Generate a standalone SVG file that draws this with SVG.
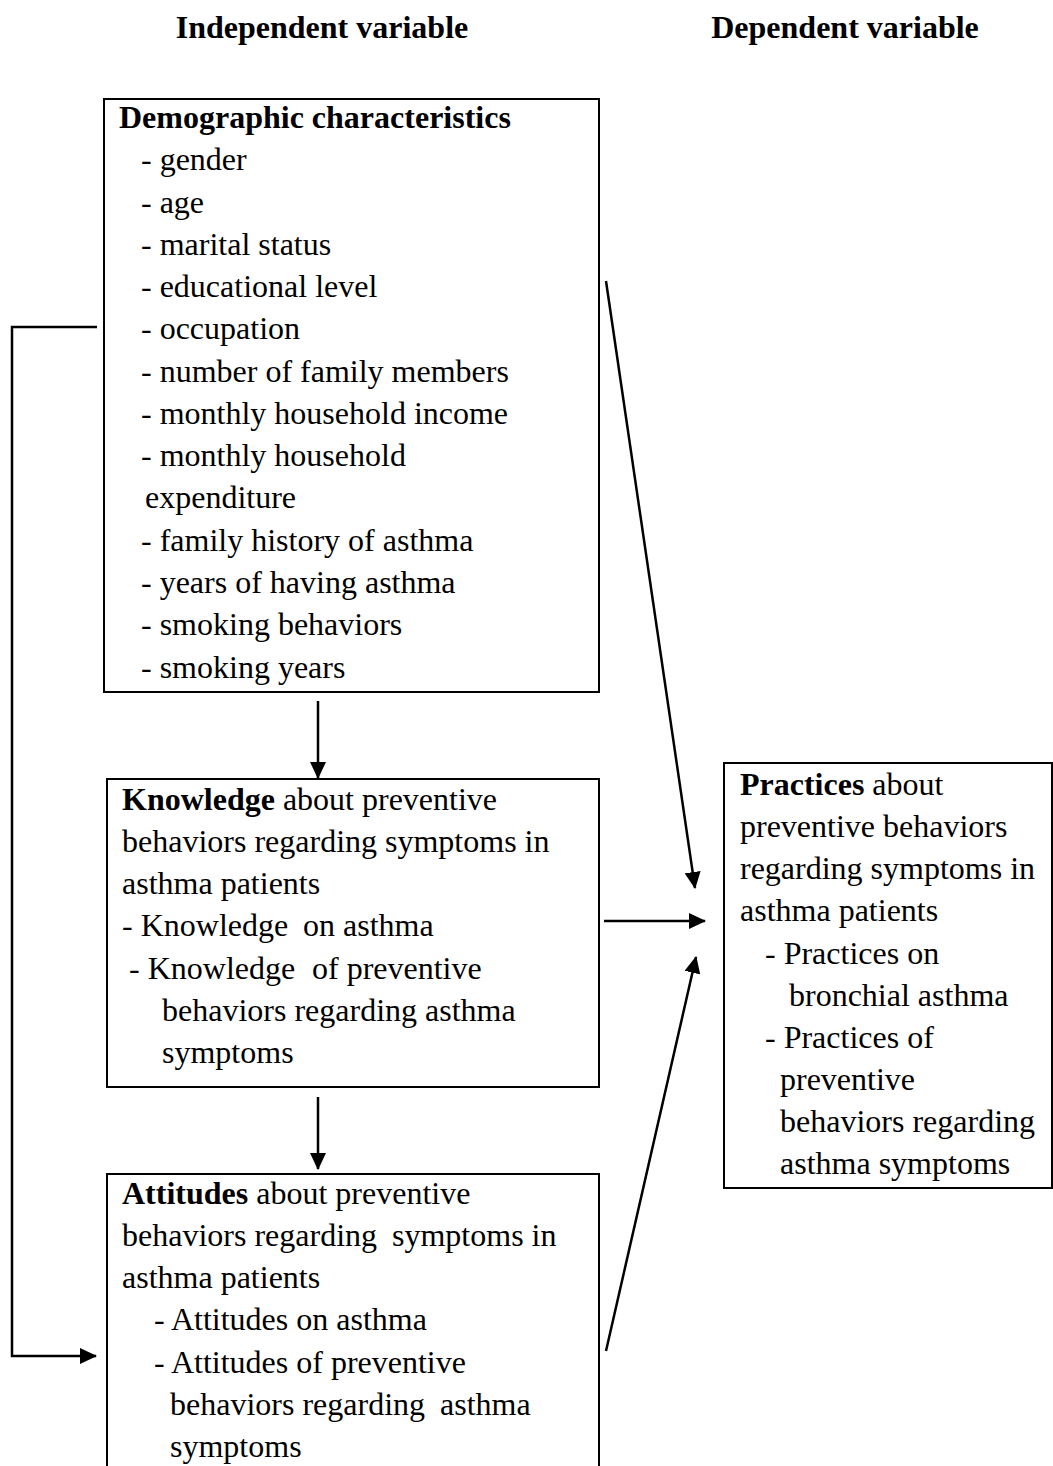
<svg xmlns="http://www.w3.org/2000/svg" width="1053" height="1466" viewBox="0 0 1053 1466">
<style>
text{font-family:"Liberation Serif","Times New Roman",serif;font-size:32px;fill:#000}
.b{font-weight:bold}
.box{fill:#fff;stroke:#000;stroke-width:2}
.ln{fill:none;stroke:#000;stroke-width:2.5}
</style>
<defs>
<marker id="ah" markerWidth="17" markerHeight="16" refX="16" refY="8" orient="auto" markerUnits="userSpaceOnUse">
<path d="M0,0 L17,8 L0,16 Z" fill="#000"/>
</marker>
</defs>
<rect width="1053" height="1466" fill="#fff"/>
<g id="headers">
<text class="b" x="322" y="38" text-anchor="middle">Independent variable</text>
<text class="b" x="845" y="38" text-anchor="middle">Dependent variable</text>
</g>
<g id="demographic">
<rect class="box" x="104" y="99" width="495" height="593"/>
<text class="b" x="119" y="128">Demographic characteristics</text>
<text x="141" y="170">- gender</text>
<text x="141" y="213">- age</text>
<text x="141" y="255">- marital status</text>
<text x="141" y="297">- educational level</text>
<text x="141" y="339">- occupation</text>
<text x="141" y="382">- number of family members</text>
<text x="141" y="424">- monthly household income</text>
<text x="141" y="466">- monthly household</text>
<text x="145" y="508">expenditure</text>
<text x="141" y="551">- family history of asthma</text>
<text x="141" y="593">- years of having asthma</text>
<text x="141" y="635">- smoking behaviors</text>
<text x="141" y="678">- smoking years</text>
</g>
<g id="knowledge">
<rect class="box" x="107" y="779" width="492" height="308"/>
<text x="122" y="810"><tspan class="b">Knowledge</tspan> about preventive</text>
<text x="122" y="852">behaviors regarding symptoms in</text>
<text x="122" y="894">asthma patients</text>
<text x="122" y="936">- Knowledge</text>
<text x="303" y="936">on asthma</text>
<text x="129" y="979">- Knowledge</text>
<text x="312" y="979">of preventive</text>
<text x="162" y="1021">behaviors regarding asthma</text>
<text x="162" y="1063">symptoms</text>
</g>
<g id="attitudes">
<rect class="box" x="107" y="1174" width="492" height="310"/>
<text x="122" y="1204"><tspan class="b">Attitudes</tspan> about preventive</text>
<text x="122" y="1246">behaviors regarding</text>
<text x="392" y="1246">symptoms in</text>
<text x="122" y="1288">asthma patients</text>
<text x="154" y="1330">- Attitudes on asthma</text>
<text x="154" y="1373">- Attitudes of preventive</text>
<text x="170" y="1415">behaviors regarding</text>
<text x="440" y="1415">asthma</text>
<text x="170" y="1457">symptoms</text>
</g>
<g id="practices">
<rect class="box" x="724" y="763" width="328" height="425"/>
<text x="740" y="795"><tspan class="b">Practices</tspan> about</text>
<text x="740" y="837">preventive behaviors</text>
<text x="740" y="879">regarding symptoms in</text>
<text x="740" y="921">asthma patients</text>
<text x="765" y="964">- Practices on</text>
<text x="789" y="1006">bronchial asthma</text>
<text x="765" y="1048">- Practices of</text>
<text x="780" y="1090">preventive</text>
<text x="780" y="1132">behaviors regarding</text>
<text x="780" y="1174">asthma symptoms</text>
</g>
<g id="connectors">
<path class="ln" d="M97,327 H12 V1356 H96" marker-end="url(#ah)"/>
<line class="ln" x1="318" y1="701" x2="318" y2="778" marker-end="url(#ah)"/>
<line class="ln" x1="318" y1="1097" x2="318" y2="1169" marker-end="url(#ah)"/>
<line class="ln" x1="606" y1="281" x2="695" y2="888" marker-end="url(#ah)"/>
<line class="ln" x1="604" y1="921" x2="705" y2="921" marker-end="url(#ah)"/>
<line class="ln" x1="606" y1="1351" x2="696" y2="957" marker-end="url(#ah)"/>
</g>
</svg>
